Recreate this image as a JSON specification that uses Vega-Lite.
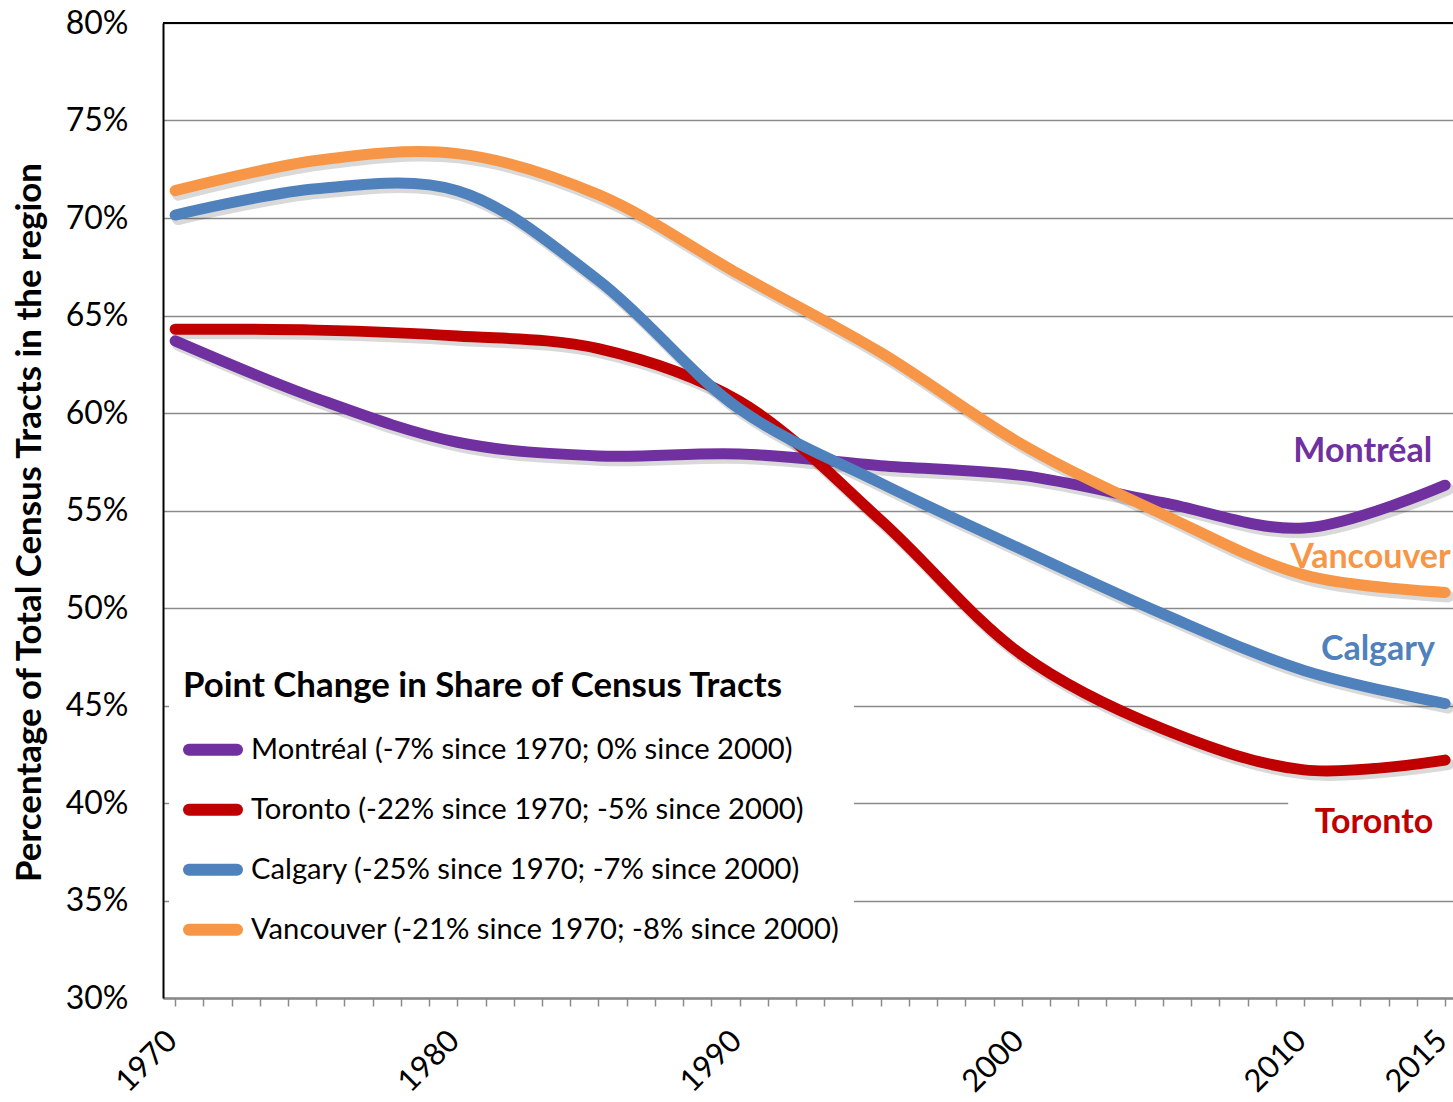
{
  "$schema": "https://vega.github.io/schema/vega-lite/v6.json",
  "width": 1290,
  "height": 975,
  "autosize": {"type": "none"},
  "padding": {"left": 163, "top": 23, "right": 0, "bottom": 104},
  "background": "white",
  "config": {
    "font": "Lato",
    "view": {"stroke": null}
  },
  "resolve": {"axis": {"x": "independent", "y": "independent"}},
  "datasets": {
    "series": [
      {"city": "Montréal", "year": 1970, "share": 63.7},
      {"city": "Montréal", "year": 1975, "share": 60.75},
      {"city": "Montréal", "year": 1980, "share": 58.5},
      {"city": "Montréal", "year": 1985, "share": 57.8},
      {"city": "Montréal", "year": 1990, "share": 57.9},
      {"city": "Montréal", "year": 1995, "share": 57.3},
      {"city": "Montréal", "year": 2000, "share": 56.8},
      {"city": "Montréal", "year": 2005, "share": 55.4},
      {"city": "Montréal", "year": 2010, "share": 54.1},
      {"city": "Montréal", "year": 2015, "share": 56.3},
      {"city": "Toronto", "year": 1970, "share": 64.3},
      {"city": "Toronto", "year": 1975, "share": 64.25},
      {"city": "Toronto", "year": 1980, "share": 63.95},
      {"city": "Toronto", "year": 1985, "share": 63.3},
      {"city": "Toronto", "year": 1990, "share": 60.6},
      {"city": "Toronto", "year": 1995, "share": 54.5},
      {"city": "Toronto", "year": 2000, "share": 47.6},
      {"city": "Toronto", "year": 2005, "share": 43.8},
      {"city": "Toronto", "year": 2010, "share": 41.7},
      {"city": "Toronto", "year": 2015, "share": 42.2},
      {"city": "Calgary", "year": 1970, "share": 70.15},
      {"city": "Calgary", "year": 1975, "share": 71.5},
      {"city": "Calgary", "year": 1980, "share": 71.4},
      {"city": "Calgary", "year": 1985, "share": 66.8},
      {"city": "Calgary", "year": 1990, "share": 60.2},
      {"city": "Calgary", "year": 1995, "share": 56.4},
      {"city": "Calgary", "year": 2000, "share": 53.0},
      {"city": "Calgary", "year": 2005, "share": 49.7},
      {"city": "Calgary", "year": 2010, "share": 46.8},
      {"city": "Calgary", "year": 2015, "share": 45.1},
      {"city": "Vancouver", "year": 1970, "share": 71.4},
      {"city": "Vancouver", "year": 1975, "share": 72.95},
      {"city": "Vancouver", "year": 1980, "share": 73.3},
      {"city": "Vancouver", "year": 1985, "share": 71.2},
      {"city": "Vancouver", "year": 1990, "share": 67.1},
      {"city": "Vancouver", "year": 1995, "share": 63.1},
      {"city": "Vancouver", "year": 2000, "share": 58.4},
      {"city": "Vancouver", "year": 2005, "share": 54.8},
      {"city": "Vancouver", "year": 2010, "share": 51.7},
      {"city": "Vancouver", "year": 2015, "share": 50.8}
    ],
    "labels": [
      {"city": "Montréal", "year": 2014.54, "share": 57.5},
      {"city": "Vancouver", "year": 2009.51, "share": 52.05},
      {"city": "Calgary", "year": 2014.64, "share": 47.33},
      {"city": "Toronto", "year": 2014.58, "share": 38.46}
    ]
  },
  "layer": [
    {
      "data": {"name": "series"},
      "mark": {"type": "line", "interpolate": "catmull-rom", "strokeWidth": 12, "color": "#000", "opacity": 0.15, "xOffset": 3, "yOffset": 4, "strokeCap": "round"},
      "encoding": {
        "x": {
          "field": "year",
          "type": "quantitative",
          "scale": {"domain": [1969.57, 2015.28], "nice": false, "zero": false},
          "axis": {
            "title": null,
            "grid": false,
            "values": [1970,1971,1972,1973,1974,1975,1976,1977,1978,1979,1980,1981,1982,1983,1984,1985,1986,1987,1988,1989,1990,1991,1992,1993,1994,1995,1996,1997,1998,1999,2000,2001,2002,2003,2004,2005,2006,2007,2008,2009,2010,2011,2012,2013,2014,2015],
            "labelExpr": "indexof([1970,1980,1990,2000,2010,2015], datum.value) >= 0 ? '' + datum.value : ''",
            "labelAngle": -45,
            "labelAlign": "right",
            "labelBaseline": "middle",
            "labelFont": "Lato",
            "labelFontSize": 31,
            "labelColor": "#000",
            "labelPadding": 30,
            "labelOffset": -3,
            "labelOverlap": false,
            "labelFlush": false,
            "labelBound": false,
            "tickSize": 8,
            "tickColor": "#8a8a8a",
            "tickWidth": 1.5,
            "domainColor": "#8a8a8a",
            "domainWidth": 2.5
          }
        },
        "y": {
          "field": "share",
          "type": "quantitative",
          "scale": {"domain": [30, 80], "nice": false, "zero": false},
          "axis": {
            "title": "Percentage of Total Census Tracts in the region",
            "titleFont": "Lato",
            "titleFontSize": 34.8,
            "titleFontWeight": "bold",
            "titleColor": "#000",
            "titleAngle": -90,
            "titleX": -133,
            "titleY": 499,
            "titleAlign": "center",
            "titleBaseline": "middle",
            "values": [30, 35, 40, 45, 50, 55, 60, 65, 70, 75, 80],
            "labelExpr": "datum.value + '%'",
            "labelFont": "Lato",
            "labelFontSize": 32,
            "labelColor": "#000",
            "labelPadding": 35,
            "ticks": false,
            "grid": true,
            "gridColor": "#8a8a8a",
            "gridWidth": 1.5,
            "domainColor": "#000",
            "domainWidth": 2
          }
        },
        "detail": {"field": "city"}
      }
    },
    {
      "data": {"values": [{"share": 80}]},
      "mark": {"type": "rule", "color": "#000", "strokeWidth": 2},
      "encoding": {
        "y": {"field": "share", "type": "quantitative", "axis": null}
      }
    },
    {
      "data": {"name": "series"},
      "mark": {"type": "line", "interpolate": "catmull-rom", "strokeWidth": 11, "strokeCap": "round"},
      "encoding": {
        "x": {"field": "year", "type": "quantitative", "axis": null},
        "y": {"field": "share", "type": "quantitative", "axis": null},
        "color": {
          "field": "city",
          "type": "nominal",
          "scale": {
            "domain": ["Montréal", "Toronto", "Calgary", "Vancouver"],
            "range": ["#7030A0", "#C00000", "#4F81BD", "#F79646"]
          },
          "legend": {
            "orient": "none",
            "legendX": 6,
            "legendY": 633,
            "padding": 14,
            "fillColor": "white",
            "title": "Point Change in Share of Census Tracts",
            "titleFont": "Lato",
            "titleFontSize": 34.8,
            "titleFontWeight": "bold",
            "titleColor": "#000",
            "titleLimit": 900,
            "titlePadding": 15,
            "labelFont": "Lato",
            "labelFontSize": 29.2,
            "labelColor": "#000",
            "labelLimit": 900,
            "labelOffset": 8,
            "symbolType": "M-1,0L1,0",
            "symbolSize": 2304,
            "symbolStrokeWidth": 12,
            "rowPadding": 6,
            "labelExpr": "datum.label == 'Montréal' ? 'Montréal (-7% since 1970; 0% since 2000)' : datum.label == 'Toronto' ? 'Toronto (-22% since 1970; -5% since 2000)' : datum.label == 'Calgary' ? 'Calgary (-25% since 1970; -7% since 2000)' : 'Vancouver (-21% since 1970; -8% since 2000)'",
            "encode": {"symbols": {"update": {"strokeCap": {"value": "round"}}}}
          }
        }
      }
    },
    {
      "data": {"name": "labels"},
      "transform": [{"filter": "datum.city == 'Toronto'"}],
      "mark": {"type": "rect", "color": "white"},
      "encoding": {
        "x": {"datum": 2009.44, "type": "quantitative", "axis": null},
        "x2": {"datum": 2015.28},
        "y": {"datum": 40.25, "type": "quantitative", "axis": null},
        "y2": {"datum": 37.8}
      }
    },
    {
      "data": {"name": "labels"},
      "transform": [{"filter": "datum.city != 'Vancouver'"}],
      "mark": {"type": "text", "align": "right", "baseline": "alphabetic", "font": "Lato", "fontSize": 34, "fontWeight": "bold"},
      "encoding": {
        "x": {"field": "year", "type": "quantitative", "axis": null},
        "y": {"field": "share", "type": "quantitative", "axis": null},
        "text": {"field": "city"},
        "color": {"field": "city", "type": "nominal", "legend": null}
      }
    },
    {
      "data": {"name": "labels"},
      "transform": [{"filter": "datum.city == 'Vancouver'"}],
      "mark": {"type": "text", "align": "left", "baseline": "alphabetic", "font": "Lato", "fontSize": 34, "fontWeight": "bold"},
      "encoding": {
        "x": {"field": "year", "type": "quantitative", "axis": null},
        "y": {"field": "share", "type": "quantitative", "axis": null},
        "text": {"field": "city"},
        "color": {"field": "city", "type": "nominal", "legend": null}
      }
    }
  ]
}
